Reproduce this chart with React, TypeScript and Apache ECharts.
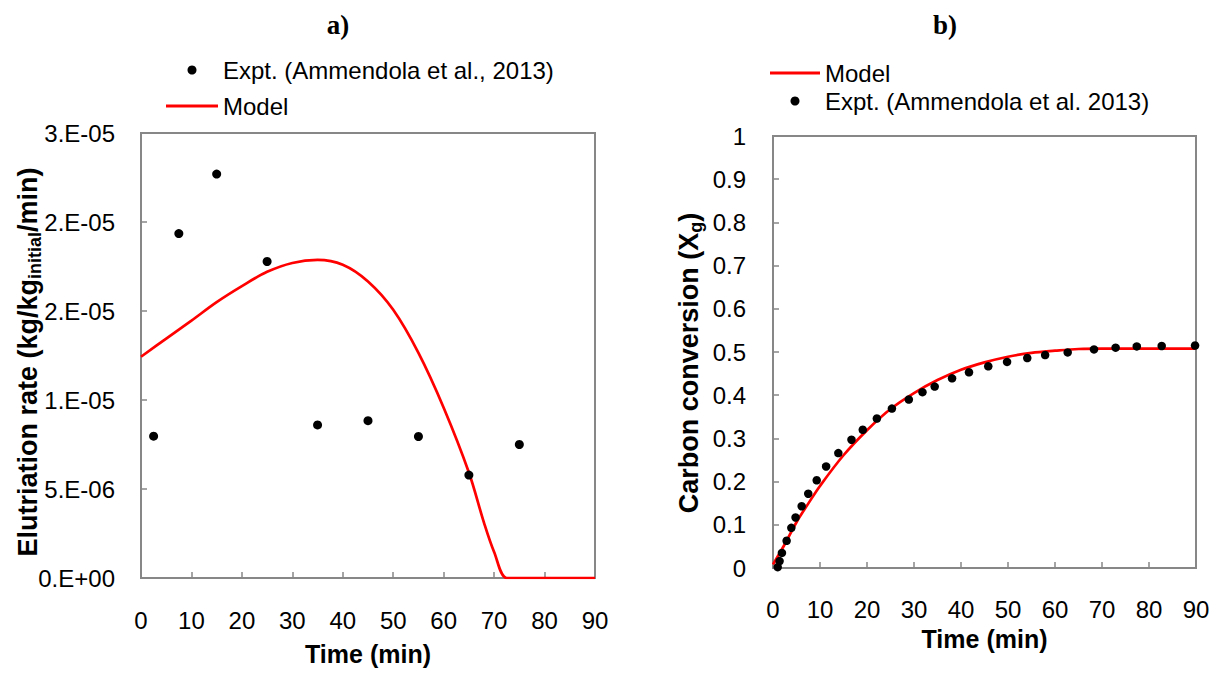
import React, { useEffect, useRef } from 'react';
import * as echarts from 'echarts';

const FONT = '"Liberation Sans", Arial, sans-serif';
const SERIF = '"Liberation Serif", "Times New Roman", serif';
const AXIS_GRAY = '#878787';

// ---- Panel a) Elutriation rate ----
const exptTimeA = [2.5, 7.5, 15, 25, 35, 45, 55, 65, 75];
const exptRateA = [7.97e-6, 19.35e-6, 22.69e-6, 17.78e-6, 8.6e-6, 8.84e-6, 7.95e-6, 5.78e-6, 7.5e-6];
const modelTimeA = [0, 5, 10, 15, 20, 25, 30, 35, 40, 45, 50, 55, 60, 65, 68, 70, 72.5, 75, 80, 85, 90];
const modelRateA = [
  12.43e-6, 13.45e-6, 14.46e-6, 15.5e-6, 16.4e-6, 17.2e-6, 17.7e-6, 17.87e-6, 17.6e-6, 16.66e-6,
  15.07e-6, 12.65e-6, 9.57e-6, 5.93e-6, 3.1e-6, 1.46e-6, 0, 0, 0, 0, 0,
];
const yTickLabelsA = ['0.E+00', '5.E-06', '1.E-05', '2.E-05', '2.E-05', '3.E-05'];

// ---- Panel b) Carbon conversion ----
const exptTimeB = [
  1.0, 1.4, 1.9, 2.9, 3.9, 4.8, 6.1, 7.5, 9.3, 11.3, 13.9, 16.7, 19.1, 22.1, 25.3, 28.9, 31.8, 34.4,
  38.1, 41.7, 45.8, 49.8, 54.1, 57.9, 62.7, 68.3, 72.9, 77.4, 82.7, 89.8,
];
const exptConvB = [
  0.002, 0.016, 0.035, 0.063, 0.093, 0.117, 0.143, 0.172, 0.203, 0.235, 0.266, 0.297, 0.32, 0.346,
  0.369, 0.39, 0.407, 0.42, 0.439, 0.453, 0.467, 0.477, 0.486, 0.493, 0.499, 0.506, 0.51, 0.513,
  0.514, 0.515,
];
const modelTimeB = [0, 2.5, 5, 7.5, 10, 15, 20, 25, 30, 35, 40, 45, 50, 55, 60, 65, 70, 80, 90];
const modelConvB = [
  0.008, 0.055, 0.106, 0.149, 0.19, 0.261, 0.319, 0.368, 0.405, 0.435, 0.459, 0.476, 0.489, 0.498,
  0.503, 0.507, 0.508, 0.508, 0.508,
];

const zip = (xs: number[], ys: number[]) => xs.map((x, i) => [x, ys[i]]);

const LINE_ICON = 'path://M0,0 L50,0 L50,3 L0,3 Z';

const axisLine = { show: true, lineStyle: { color: AXIS_GRAY, width: 2 } };
const axisTick = { show: true, inside: true, length: 6, lineStyle: { color: AXIS_GRAY, width: 1.5 } };
const labelStyle = { fontSize: 24, color: '#000', fontFamily: FONT };
const nameStyle = { fontSize: 25, fontWeight: 'bold' as const, color: '#000', fontFamily: FONT };
const legendText = { fontSize: 24, color: '#000', fontFamily: FONT };

function buildOption() {
  return {
    animation: false,
    backgroundColor: '#fff',
    textStyle: { fontFamily: FONT },
    grid: [
      { left: 141, top: 133, width: 454, height: 445, show: true, borderColor: AXIS_GRAY, borderWidth: 2 },
      { left: 773, top: 136, width: 423, height: 432, show: true, borderColor: AXIS_GRAY, borderWidth: 2 },
    ],
    legend: [
      {
        left: 166,
        top: 58,
        padding: 0,
        orient: 'vertical',
        itemWidth: 52,
        itemHeight: 9,
        itemGap: 12,
        textStyle: legendText,
        data: ['Expt. (Ammendola et al., 2013)', { name: 'Model', icon: LINE_ICON }],
      },
      {
        left: 770,
        top: 61,
        padding: 0,
        orient: 'vertical',
        itemWidth: 50,
        itemHeight: 9,
        itemGap: 4,
        textStyle: legendText,
        data: [{ name: 'Model', icon: LINE_ICON }, 'Expt. (Ammendola et al. 2013)'],
      },
    ],
    xAxis: [
      {
        type: 'value', gridIndex: 0, min: 0, max: 90, interval: 10,
        axisLine, axisTick, splitLine: { show: false },
        axisLabel: { ...labelStyle, margin: 30 },
        name: 'Time (min)', nameLocation: 'middle', nameGap: 63, nameTextStyle: nameStyle,
      },
      {
        type: 'value', gridIndex: 1, min: 0, max: 90, interval: 10,
        axisLine, axisTick, splitLine: { show: false },
        axisLabel: { ...labelStyle, margin: 29 },
        name: 'Time (min)', nameLocation: 'middle', nameGap: 58, nameTextStyle: nameStyle,
      },
    ],
    yAxis: [
      {
        type: 'value', gridIndex: 0, min: 0, max: 2.5e-5, interval: 5e-6,
        axisLine, axisTick, splitLine: { show: false },
        axisLabel: { ...labelStyle, margin: 26, formatter: (_v: number, i: number) => yTickLabelsA[i] },
      },
      {
        type: 'value', gridIndex: 1, min: 0, max: 1, interval: 0.1,
        axisLine, axisTick, splitLine: { show: false },
        axisLabel: { ...labelStyle, margin: 27 },
      },
    ],
    series: [
      {
        name: 'Expt. (Ammendola et al., 2013)', type: 'scatter', xAxisIndex: 0, yAxisIndex: 0,
        symbol: 'circle', symbolSize: 9, itemStyle: { color: '#000', opacity: 1 },
        data: zip(exptTimeA, exptRateA), z: 3,
      },
      {
        name: 'Model', type: 'line', xAxisIndex: 0, yAxisIndex: 0,
        symbol: 'none', smooth: 0.35,
        lineStyle: { color: '#ff0000', width: 2.7 }, itemStyle: { color: '#ff0000' },
        data: zip(modelTimeA, modelRateA), z: 2,
      },
      {
        name: 'Model', type: 'line', xAxisIndex: 1, yAxisIndex: 1,
        symbol: 'none', smooth: 0.35,
        lineStyle: { color: '#ff0000', width: 2.7 }, itemStyle: { color: '#ff0000' },
        data: zip(modelTimeB, modelConvB), z: 2,
      },
      {
        name: 'Expt. (Ammendola et al. 2013)', type: 'scatter', xAxisIndex: 1, yAxisIndex: 1,
        symbol: 'circle', symbolSize: 8.5, itemStyle: { color: '#000', opacity: 1 },
        data: zip(exptTimeB, exptConvB), z: 3,
      },
    ],
    graphic: [
      {
        type: 'text', x: 338, y: 25,
        style: { text: 'a)', fontSize: 27, fontWeight: 'bold', fontFamily: SERIF, fill: '#000', align: 'center', verticalAlign: 'middle' },
      },
      {
        type: 'text', x: 945, y: 25,
        style: { text: 'b)', fontSize: 27, fontWeight: 'bold', fontFamily: SERIF, fill: '#000', align: 'center', verticalAlign: 'middle' },
      },
      {
        type: 'text', x: 28, y: 362, rotation: Math.PI / 2,
        style: {
          text: 'Elutriation rate (kg/kg{sub|initial}/min)',
          fontSize: 27, fontWeight: 'bold', fontFamily: FONT, fill: '#000',
          align: 'center', verticalAlign: 'middle', lineHeight: 32,
          rich: { sub: { fontSize: 18, fontWeight: 'bold', fontFamily: FONT, fill: '#000', verticalAlign: 'bottom', lineHeight: 20 } },
        },
      },
      {
        type: 'text', x: 689, y: 363, rotation: Math.PI / 2,
        style: {
          text: 'Carbon conversion (X{sub|g})',
          fontSize: 27, fontWeight: 'bold', fontFamily: FONT, fill: '#000',
          align: 'center', verticalAlign: 'middle', lineHeight: 32,
          rich: { sub: { fontSize: 18, fontWeight: 'bold', fontFamily: FONT, fill: '#000', verticalAlign: 'bottom', lineHeight: 20 } },
        },
      },
    ],
  };
}

export default function App() {
  const ref = useRef<HTMLDivElement>(null);
  useEffect(() => {
    if (!ref.current) return;
    const chart = echarts.init(ref.current, null, { renderer: 'svg' });
    chart.setOption(buildOption() as any);
    return () => chart.dispose();
  }, []);
  return (
    <div
      ref={ref}
      style={{ position: 'fixed', left: 0, top: 0, width: 1217, height: 679, background: '#fff' }}
    />
  );
}
